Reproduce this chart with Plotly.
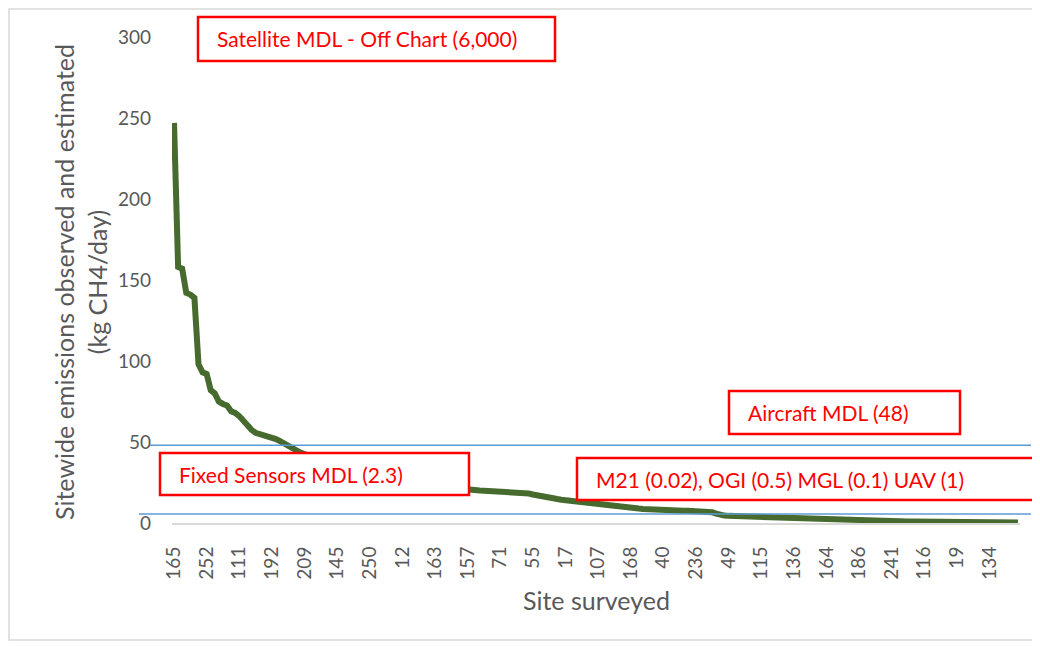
import plotly.graph_objects as go

# ---------------- data ----------------
site_labels = ["165", "252", "111", "192", "209", "145", "250", "12", "163", "157",
               "71", "55", "17", "107", "168", "40", "236", "49", "115", "136",
               "164", "186", "241", "116", "19", "134"]
label_step = 8  # one site label shown every 8 sites

emissions = [
    247, 158, 157, 142, 141, 139, 98, 93, 92, 82,
    80, 75, 73.5, 72.5, 69, 68, 66, 63, 60, 57.5,
    55.7, 55, 54.5, 53.8, 52.8, 51.8, 50.5, 49, 47.5, 45.5,
    44.5, 43.5, 42.5, 41.5, 40.5, 39.5, 38.5, 37.5, 36.5, 35.5,
    34.8, 34, 33.2, 32.5, 31.8, 31, 30.3, 29.7, 29.1, 28.5,
    28, 27.5, 27, 26.5, 26, 25.6, 25.2, 24.8, 24.4, 24,
    23.7, 23.4, 23.1, 22.8, 22.5, 22.2, 22, 21.7, 21.5, 21.2,
    21, 20.8, 20.6, 20.3, 20.1, 20, 19.9, 19.8, 19.7, 19.6,
    19.5, 19.4, 19.3, 19.2, 19.1, 19, 18.8, 18.2, 17.6, 17,
    16.4, 16, 15.6, 15.2, 14.8, 14.4, 14.1, 13.8, 13.5, 13.2,
    12.8, 12.3, 11.8, 11.3, 11, 10.7, 10.5, 10.3, 10.1, 9.9,
    9.7, 9.5, 9.3, 9.1, 8.9, 8.7, 8.5, 8.4, 8.3, 8.2,
    8.1, 8, 7.9, 7.8, 7.7, 7.6, 7.5, 7.4, 7.3, 7.2,
    7.1, 6.9, 6.6, 5.8, 5, 4.6, 4.4, 4.3, 4.2, 4.1,
    4, 3.9, 3.8, 3.7, 3.6, 3.5, 3.4, 3.35, 3.3, 3.25,
    3.2, 3.15, 3.1, 3.05, 3, 2.95, 2.9, 2.85, 2.8, 2.75,
    2.7, 2.6, 2.5, 2.4, 2.3, 2.2, 2.0, 1.8, 1.6, 1.45,
    1.35, 1.3, 1.25, 1.2, 1.15, 1.1, 1.05, 1.0, 0.97, 0.94,
    0.9, 0.88, 0.86, 0.84, 0.82, 0.8, 0.78, 0.76, 0.74, 0.72,
    0.7, 0.68, 0.66, 0.64, 0.62, 0.6, 0.58, 0.56, 0.54, 0.52,
    0.5, 0.48, 0.46, 0.44, 0.42, 0.4, 0.38, 0.36,
]

mdl_line_values = [48, 5.5]   # drawn reference lines (Aircraft, Fixed sensors)
y_ticks = [0, 50, 100, 150, 200, 250, 300]

box_texts = [
    "Satellite MDL - Off Chart (6,000)",
    "Aircraft MDL (48)",
    "Fixed Sensors MDL (2.3)",
    "M21 (0.02), OGI (0.5) MGL (0.1) UAV (1)",
]

y_title = "Sitewide emissions observed and estimated<br>(kg CH4/day)"
x_title = "Site surveyed"

# ---------------- layout helpers ----------------
# page body has an 8px default margin, so the figure is shifted by 8px
OFF = 8
W, H = 1040 - OFF, 646 - OFF
L, R, T, B = 172, 1020, 37, 523   # plot area in screen pixels


def px(xp):
    return (xp - L) / (R - L)


def py(yp):
    return (B - yp) / (B - T)


FONT = "Lato"
GRAY = "#595959"
RED = "#FF0000"
GREEN = "#476B2F"
BLUE = "#5B9BD5"

x_idx = list(range(len(emissions)))
tick_vals = [i * label_step for i in range(len(site_labels))]

fig = go.Figure()
fig.add_trace(go.Scatter(
    x=x_idx, y=emissions, mode="lines",
    line=dict(color=GREEN, width=6),
    hoverinfo="skip", showlegend=False,
))

shapes = []
# outer chart border
shapes.append(dict(type="rect", xref="paper", yref="paper",
                   x0=px(9), x1=px(1033), y0=py(640), y1=py(9),
                   line=dict(color="#D9D9D9", width=1.5), layer="below"))
# MDL reference lines
line_extents = [(150, 1031), (139, 1031)]
for val, (xa, xb) in zip(mdl_line_values, line_extents):
    shapes.append(dict(type="line", xref="paper", yref="y",
                       x0=px(xa), x1=px(xb), y0=val, y1=val,
                       line=dict(color=BLUE, width=1.5), layer="above"))

# annotation boxes (screen pixel boxes)
boxes = [(198, 17, 555, 61), (729, 391, 960, 434), (160, 453, 469, 495), (577, 458, 1037, 500)]
annotations = []
for (x0, y0, x1, y1), txt in zip(boxes, box_texts):
    shapes.append(dict(type="rect", xref="paper", yref="paper",
                       x0=px(x0), x1=px(x1), y0=py(y1), y1=py(y0),
                       line=dict(color=RED, width=2.5), fillcolor="white", layer="above"))
    annotations.append(dict(xref="paper", yref="paper", x=px(x0 + 17), y=py((y0 + y1) / 2),
                            xanchor="left", yanchor="middle", showarrow=False, text=txt,
                            font=dict(family=FONT, size=21, color=RED)))

annotations.append(dict(xref="paper", yref="paper", x=px(80), y=py(282),
                        xanchor="center", yanchor="middle", showarrow=False,
                        text=y_title, textangle=-90,
                        font=dict(family=FONT, size=25, color=GRAY)))
annotations.append(dict(xref="paper", yref="paper", x=px(596), y=py(600),
                        xanchor="center", yanchor="middle", showarrow=False,
                        text=x_title, font=dict(family=FONT, size=25, color=GRAY)))

fig.update_layout(
    width=W, height=H,
    margin=dict(l=L - OFF, r=W - (R - OFF), t=T - OFF, b=H - (B - OFF)),
    paper_bgcolor="white", plot_bgcolor="white",
    shapes=shapes, annotations=annotations,
    font=dict(family=FONT, color=GRAY),
    showlegend=False,
)
fig.update_xaxes(
    range=[-0.5, len(emissions) - 0.5],
    tickmode="array", tickvals=tick_vals, ticktext=site_labels,
    tickangle=-90, tickfont=dict(family=FONT, size=19, color=GRAY),
    showgrid=False, zeroline=False,
    showline=True, linecolor="#D9D9D9", linewidth=2,
    ticks="", ticklabelstandoff=14,
)
fig.update_yaxes(
    range=[0, 300], tickvals=y_ticks,
    tickfont=dict(family=FONT, size=19, color=GRAY),
    showgrid=False, zeroline=False, showline=False,
    ticks="", ticklabelstandoff=20,
)

fig.write_html("out.html")
